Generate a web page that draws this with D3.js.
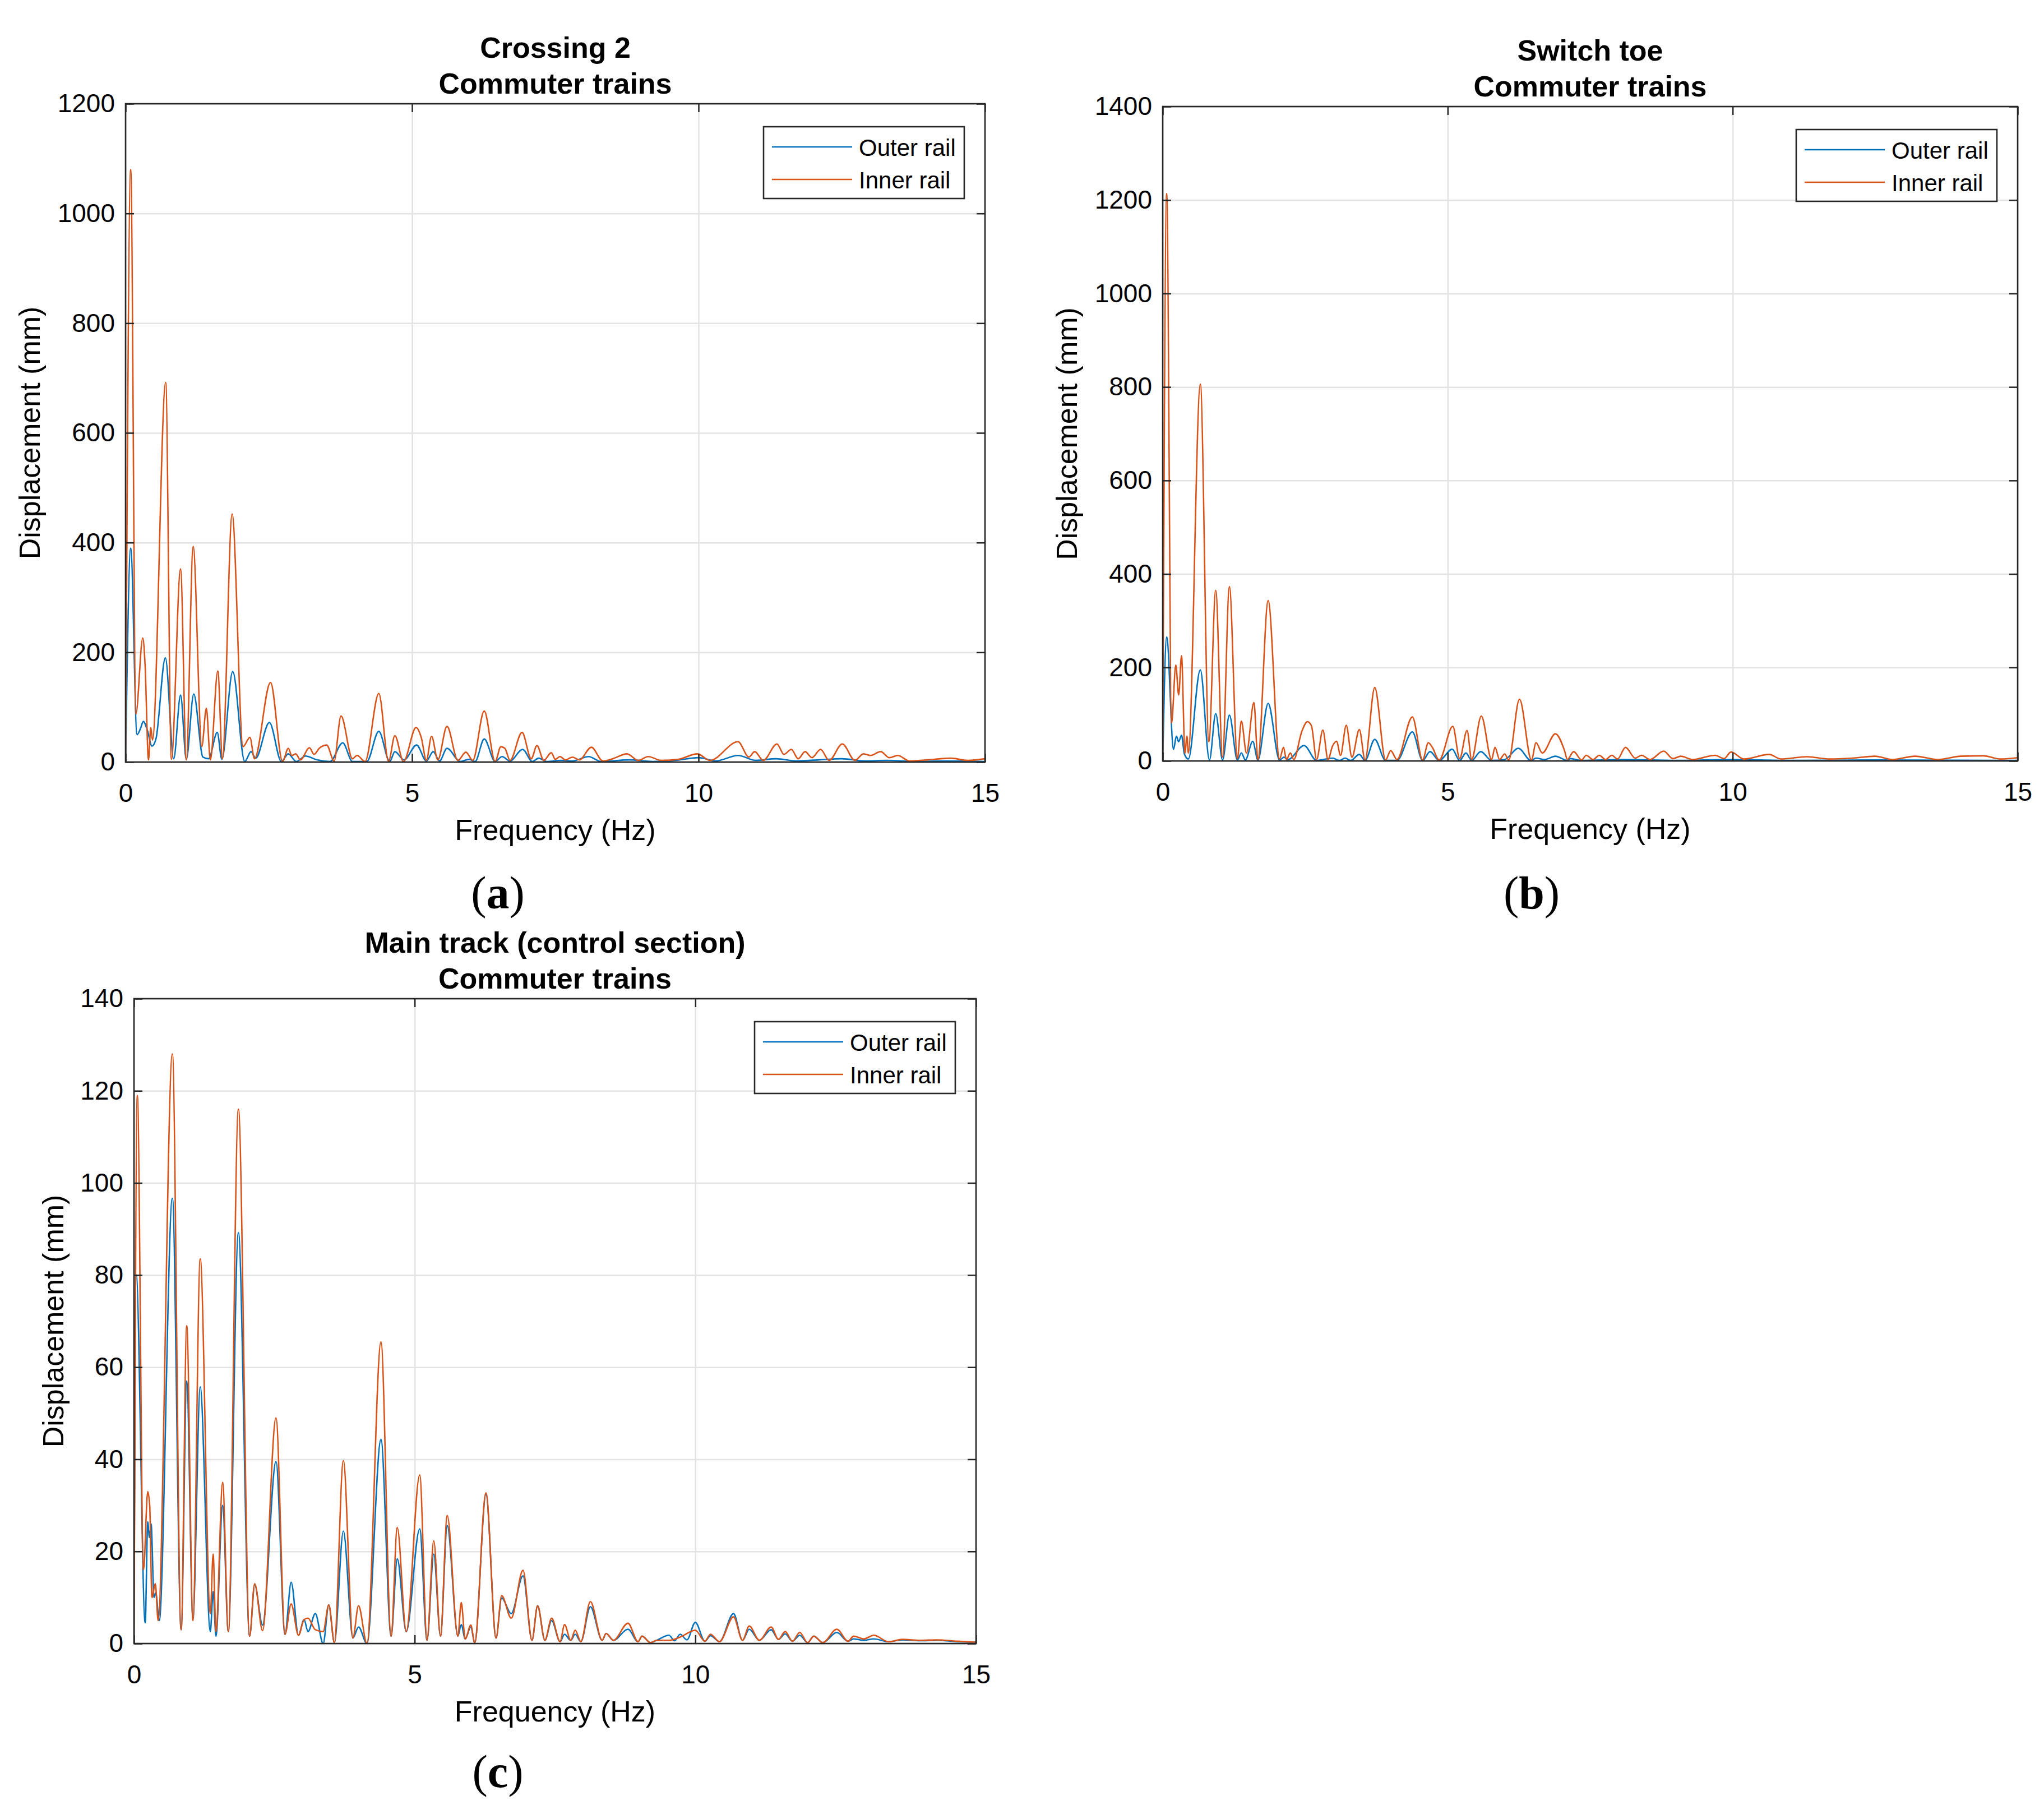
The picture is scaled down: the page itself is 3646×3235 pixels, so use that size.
<!DOCTYPE html>
<html>
<head>
<meta charset="utf-8">
<title>Displacement spectra - commuter trains</title>
<script src="https://d3js.org/d3.v7.min.js"></script>
<style>
  body { margin: 0; background: #fff; }
  svg text { font-family: "Liberation Sans", Arial, Helvetica, sans-serif; fill: #000; }
</style>
</head>
<body>
<div id="container"></div>
<script>
//------------------------------DATA------------------------------//
// [frequency (Hz), displacement] (peaks and troughs)
var freqTicks = [0, 5, 10, 15];
var seriesNames = ["Outer rail", "Inner rail"];

// (a) Crossing 2
var crossingTicks = [0, 200, 400, 600, 800, 1000, 1200];
var crossingOuter = [
  [0, 0], [0.09, 390], [0.2, 50], [0.26, 61], [0.31, 74], [0.38, 58], [0.46, 29], [0.53, 42],
  [0.695, 190], [0.84, 6], [0.96, 122], [1.06, 5], [1.19, 124], [1.35, 9], [1.45, 6], [1.6, 54],
  [1.68, 5], [1.87, 165], [2.08, 1], [2.19, 19], [2.27, 7], [2.51, 72], [2.72, 1], [2.84, 15],
  [2.98, 1], [3.14, 11], [3.34, 4], [3.57, 1], [3.79, 35], [3.96, 1], [4.21, 1], [4.42, 56],
  [4.61, 1], [4.7, 19], [4.86, 4], [5.08, 31], [5.25, 2], [5.37, 19], [5.48, 2], [5.61, 25],
  [5.84, 1], [6.0, 5], [6.1, 1], [6.26, 42], [6.45, 1], [6.57, 10], [6.71, 2], [6.93, 23],
  [7.1, 1], [7.21, 7], [7.35, 1], [7.6, 3], [7.8, 2], [8.08, 10], [8.3, 1], [8.8, 4], [9.2, 1],
  [9.6, 3], [10.0, 8], [10.3, 2], [10.69, 12], [11.0, 3], [11.35, 6], [11.7, 2], [12.1, 4],
  [12.5, 6], [12.9, 2], [13.3, 3], [13.8, 1], [14.3, 2], [15, 1]
];
var crossingInner = [
  [0, 0], [0.09, 1080], [0.18, 88], [0.3, 226], [0.34, 178], [0.4, 4], [0.44, 63], [0.47, 40],
  [0.7, 692], [0.8, 5], [0.96, 352], [1.06, 4], [1.18, 393], [1.33, 28], [1.41, 98], [1.48, 4],
  [1.61, 166], [1.69, 6], [1.86, 452], [2.05, 28], [2.17, 45], [2.25, 6], [2.53, 145], [2.74, 1],
  [2.84, 25], [2.9, 12], [2.97, 15], [3.05, 4], [3.21, 26], [3.29, 14], [3.38, 25], [3.51, 31],
  [3.64, 2], [3.76, 84], [3.96, 6], [4.04, 12], [4.18, 1], [4.42, 125], [4.59, 1], [4.7, 48],
  [4.85, 1], [5.07, 63], [5.16, 45], [5.25, 3], [5.34, 47], [5.45, 4], [5.61, 65], [5.8, 3],
  [5.94, 18], [6.06, 3], [6.26, 93], [6.45, 1], [6.55, 28], [6.62, 25], [6.71, 3], [6.92, 54],
  [7.08, 6], [7.18, 30], [7.3, 3], [7.43, 17], [7.5, 5], [7.58, 10], [7.68, 4], [7.8, 9],
  [7.92, 4], [8.13, 27], [8.33, 2], [8.5, 6], [8.75, 15], [8.95, 3], [9.12, 10], [9.35, 3],
  [9.65, 5], [9.98, 15], [10.2, 3], [10.69, 37], [10.88, 9], [10.98, 19], [11.13, 3],
  [11.37, 33], [11.49, 14], [11.62, 23], [11.74, 6], [11.86, 19], [11.98, 8], [12.13, 23],
  [12.28, 3], [12.51, 33], [12.73, 3], [12.88, 15], [13.0, 12], [13.18, 19], [13.33, 8],
  [13.48, 12], [13.68, 2], [14.0, 4], [14.4, 7], [14.7, 3], [15, 6]
];

// (b) Switch toe
var switchTicks = [0, 200, 400, 600, 800, 1000, 1200, 1400];
var switchOuter = [
  [0, 0], [0.07, 265], [0.19, 25], [0.24, 53], [0.28, 41], [0.33, 55], [0.38, 15], [0.45, 4],
  [0.66, 195], [0.82, 2], [0.93, 101], [1.05, 2], [1.17, 98], [1.31, 2], [1.38, 17], [1.45, 2],
  [1.58, 42], [1.67, 2], [1.85, 123], [2.05, 2], [2.13, 8], [2.2, 3], [2.48, 33], [2.7, 1],
  [2.98, 6], [3.1, 1], [3.2, 6], [3.3, 1], [3.45, 14], [3.55, 1], [3.72, 46], [3.91, 1],
  [4.11, 1], [4.38, 62], [4.56, 1], [4.69, 20], [4.85, 1], [5.08, 25], [5.21, 1], [5.32, 17],
  [5.42, 1], [5.58, 20], [5.77, 1], [6.0, 3], [6.24, 27], [6.46, 1], [6.55, 6], [6.7, 3],
  [6.89, 10], [7.1, 1], [7.15, 5], [7.35, 1], [8.1, 3], [9.0, 1], [10.0, 3], [11.0, 1],
  [12.5, 2], [15, 1]
];
var switchInner = [
  [0, 0], [0.07, 1214], [0.155, 81], [0.23, 205], [0.28, 141], [0.33, 225], [0.39, 17],
  [0.425, 53], [0.45, 17], [0.66, 806], [0.81, 41], [0.93, 365], [1.05, 8], [1.17, 373],
  [1.31, 5], [1.38, 85], [1.47, 17], [1.6, 125], [1.67, 3], [1.85, 343], [2.05, 4], [2.12, 29],
  [2.17, 3], [2.24, 17], [2.3, 3], [2.44, 63], [2.54, 84], [2.61, 75], [2.7, 3], [2.81, 66],
  [2.9, 3], [2.98, 32], [3.05, 42], [3.12, 12], [3.22, 76], [3.32, 8], [3.45, 67], [3.55, 2],
  [3.72, 157], [3.91, 2], [4.0, 22], [4.11, 3], [4.38, 94], [4.56, 2], [4.66, 39], [4.73, 29],
  [4.85, 2], [5.09, 74], [5.21, 5], [5.34, 65], [5.42, 3], [5.59, 96], [5.77, 3], [5.83, 29],
  [5.91, 3], [6.0, 15], [6.07, 2], [6.26, 132], [6.47, 2], [6.55, 39], [6.66, 17], [6.89, 58],
  [7.05, 22], [7.1, 3], [7.21, 20], [7.35, 2], [7.43, 12], [7.55, 3], [7.66, 12], [7.77, 3],
  [7.88, 12], [7.98, 4], [8.12, 29], [8.29, 6], [8.4, 12], [8.55, 3], [8.79, 21], [8.95, 5],
  [9.09, 10], [9.3, 3], [9.69, 12], [9.85, 5], [9.97, 19], [10.2, 4], [10.64, 14], [10.85, 4],
  [11.3, 9], [11.7, 4], [12.1, 6], [12.5, 10], [12.8, 3], [13.2, 10], [13.6, 3], [14.0, 10],
  [14.4, 11], [14.7, 4], [15, 7]
];

// (c) Main track (control section)
var mainTicks = [0, 20, 40, 60, 80, 100, 120, 140];
var mainOuter = [
  [0, 0], [0.04, 80], [0.2, 4.5], [0.245, 26.4], [0.275, 23], [0.305, 26], [0.357, 10],
  [0.388, 11], [0.45, 5], [0.684, 96.7], [0.84, 3], [0.94, 57], [1.05, 5.5], [1.18, 55.7],
  [1.36, 2.6], [1.41, 11.3], [1.46, 1.6], [1.58, 30], [1.68, 2.6], [1.86, 89.2], [2.06, 1.6],
  [2.15, 12.8], [2.29, 4], [2.53, 39.5], [2.69, 2], [2.8, 13.3], [2.93, 1.8], [3.03, 5.2],
  [3.1, 2.6], [3.23, 6.5], [3.37, 0], [3.47, 8.4], [3.57, 0.2], [3.73, 24.4], [3.9, 1.2],
  [4.0, 3.6], [4.15, 0], [4.4, 44.3], [4.58, 1.6], [4.69, 18.4], [4.85, 2.6], [5.09, 24.9],
  [5.22, 0.7], [5.34, 19.4], [5.46, 1.6], [5.58, 25.6], [5.77, 1.6], [5.83, 4.1], [5.9, 1],
  [6.0, 3.6], [6.07, 0.2], [6.27, 32.4], [6.45, 1.2], [6.55, 9.9], [6.72, 6.5], [6.93, 14.7],
  [7.09, 0.7], [7.19, 8.2], [7.32, 0.7], [7.44, 5], [7.59, 0.4], [7.67, 2], [7.78, 0.7],
  [7.86, 2], [7.96, 0.4], [8.13, 8], [8.34, 0.7], [8.41, 2.2], [8.54, 0.7], [8.8, 3.1],
  [8.98, 0.4], [9.05, 1.6], [9.2, 0.2], [9.31, 0.7], [9.53, 1.8], [9.63, 0.6], [9.73, 2],
  [9.85, 0.8], [10.0, 4.6], [10.17, 0.5], [10.27, 1.7], [10.43, 0.4], [10.68, 6.5],
  [10.84, 0.7], [10.96, 3.1], [11.14, 0.7], [11.35, 3], [11.48, 0.9], [11.6, 2.1],
  [11.73, 0.5], [11.86, 1.8], [12.0, 0.2], [12.11, 1.6], [12.27, 0.2], [12.52, 2.4],
  [12.72, 0.5], [12.82, 1], [13.0, 0.7], [13.18, 1], [13.44, 0.4], [13.69, 0.8], [14.0, 0.6],
  [14.3, 0.7], [14.66, 0.4], [15, 0.3]
];
var mainInner = [
  [0, 0], [0.06, 119], [0.17, 16], [0.245, 33], [0.28, 30], [0.32, 10], [0.38, 13], [0.43, 5],
  [0.684, 128], [0.84, 3], [0.94, 69], [1.05, 5], [1.18, 83.5], [1.36, 6.5], [1.41, 19.4],
  [1.46, 2.6], [1.58, 35], [1.68, 2.6], [1.86, 116], [2.06, 1.6], [2.15, 13], [2.29, 2.8],
  [2.53, 49], [2.69, 2], [2.8, 8.6], [2.93, 1.8], [3.03, 5.2], [3.1, 5.5], [3.23, 3],
  [3.37, 2.6], [3.47, 8.4], [3.57, 0.2], [3.73, 39.7], [3.9, 1.2], [4.0, 8.2], [4.15, 0],
  [4.4, 65.5], [4.58, 1.6], [4.69, 25.2], [4.85, 2.6], [5.09, 36.6], [5.22, 0.7], [5.34, 22.3],
  [5.46, 1.6], [5.58, 27.8], [5.77, 1.6], [5.83, 8.9], [5.9, 1], [6.0, 4], [6.07, 0.2],
  [6.27, 32.7], [6.45, 1.2], [6.55, 10.4], [6.72, 5.5], [6.93, 15.9], [7.09, 0.7], [7.19, 8.2],
  [7.32, 0.7], [7.44, 5.5], [7.59, 0.4], [7.67, 4.1], [7.78, 0.7], [7.86, 2.9], [7.96, 0.4],
  [8.13, 9.1], [8.34, 0.7], [8.41, 2.2], [8.54, 0.7], [8.8, 4.4], [8.98, 0.4], [9.05, 1.6],
  [9.2, 0.2], [9.31, 0.7], [9.53, 0.7], [9.73, 1.4], [10.0, 2.9], [10.17, 0.5], [10.27, 2],
  [10.43, 0.4], [10.68, 5.8], [10.84, 0.7], [10.96, 3.8], [11.14, 0.7], [11.35, 3.6],
  [11.48, 0.9], [11.6, 2.6], [11.73, 0.5], [11.86, 2.4], [12.0, 0.2], [12.11, 1.6],
  [12.27, 0.2], [12.52, 3.1], [12.72, 0.5], [12.82, 1.6], [13.0, 1], [13.18, 1.8],
  [13.44, 0.4], [13.69, 0.9], [14.0, 0.7], [14.3, 0.8], [14.66, 0.5], [15, 0.3]
];

//---------------------------LAYOUT-------------------------------//
var W = 3646, H = 3235;
var colors = ["#0072BD", "#D95319"];
var axisColor = "#262626", gridColor = "#e3e3e3";

var panels = [
  { tag: "a", title: ["Crossing 2", "Commuter trains"], box: { l: 224, t: 185, r: 1757, b: 1359 },
    yTicks: crossingTicks, series: [crossingOuter, crossingInner], ylabOff: 153, tagX: 888, tagY: 1620 },
  { tag: "b", title: ["Switch toe", "Commuter trains"], box: { l: 2074, t: 190, r: 3599, b: 1357 },
    yTicks: switchTicks, series: [switchOuter, switchInner], ylabOff: 153, tagX: 2732, tagY: 1620 },
  { tag: "c", title: ["Main track (control section)", "Commuter trains"], box: { l: 239, t: 1781, r: 1741, b: 2931 },
    yTicks: mainTicks, series: [mainOuter, mainInner], ylabOff: 126, tagX: 888, tagY: 3187 }
];

var svg = d3.select("#container").append("svg")
  .attr("width", W).attr("height", H)
  .style("display", "block")
  .style("background", "#fff");

//----------------------------DRAW--------------------------------//
function drawPanel(p, idx) {
  var b = p.box, w = b.r - b.l, h = b.b - b.t;
  var x = d3.scaleLinear().domain([0, 15]).range([0, w]);
  var y = d3.scaleLinear().domain([0, d3.max(p.yTicks)]).range([h, 0]);
  var tick = 15;

  var g = svg.append("g").attr("transform", "translate(" + b.l + "," + b.t + ")");

  // grid
  g.append("g").attr("class", "grid")
    .attr("transform", "translate(0," + h + ")")
    .call(d3.axisBottom(x).tickValues(freqTicks).tickSize(-h).tickFormat(""))
    .call(function (s) { s.select(".domain").remove(); });
  g.append("g").attr("class", "grid")
    .call(d3.axisLeft(y).tickValues(p.yTicks).tickSize(-w).tickFormat(""))
    .call(function (s) { s.select(".domain").remove(); });
  g.selectAll(".grid line").attr("stroke", gridColor).attr("stroke-width", 2.5);

  // lines
  var clipId = "clip-" + p.tag;
  g.append("clipPath").attr("id", clipId)
    .append("rect").attr("x", 0).attr("y", -2).attr("width", w).attr("height", h + 2);
  var line = d3.line()
    .x(function (d) { return x(d[0]); })
    .y(function (d) { return y(d[1]); })
    .curve(d3.curveMonotoneX);
  p.series.forEach(function (s, i) {
    g.append("path")
      .datum(s)
      .attr("clip-path", "url(#" + clipId + ")")
      .attr("fill", "none")
      .attr("stroke", colors[i])
      .attr("stroke-width", 2.6)
      .attr("stroke-linejoin", "round")
      .attr("d", line);
  });

  // axes (ticks inward on all four sides)
  var xb = g.append("g").attr("transform", "translate(0," + h + ")")
    .call(d3.axisBottom(x).tickValues(freqTicks).tickSize(-tick).tickPadding(38).tickFormat(d3.format("d")));
  var xt = g.append("g")
    .call(d3.axisTop(x).tickValues(freqTicks).tickSize(-tick).tickFormat(""));
  var yl = g.append("g")
    .call(d3.axisLeft(y).tickValues(p.yTicks).tickSize(-tick).tickPadding(19).tickFormat(d3.format("d")));
  var yr = g.append("g").attr("transform", "translate(" + w + ",0)")
    .call(d3.axisRight(y).tickValues(p.yTicks).tickSize(-tick).tickFormat(""));
  [xb, xt, yl, yr].forEach(function (a) {
    a.select(".domain").remove();
    a.selectAll("line").attr("stroke", axisColor).attr("stroke-width", 2.5);
    a.selectAll("text").attr("font-size", 46).attr("fill", "#262626")
      .attr("font-family", "'Liberation Sans', Arial, sans-serif");
  });

  // box
  g.append("rect").attr("width", w).attr("height", h)
    .attr("fill", "none").attr("stroke", axisColor).attr("stroke-width", 2.6);

  // titles
  p.title.forEach(function (t, i) {
    g.append("text")
      .attr("x", w / 2).attr("y", i === 0 ? -82 : -18)
      .attr("text-anchor", "middle")
      .attr("font-size", 52).attr("font-weight", "bold")
      .text(t);
  });

  // axis labels
  g.append("text")
    .attr("x", w / 2).attr("y", h + 139)
    .attr("text-anchor", "middle").attr("font-size", 52).attr("fill", "#262626")
    .text("Frequency (Hz)");
  g.append("text")
    .attr("transform", "translate(" + (-p.ylabOff) + "," + (h / 2) + ") rotate(-90)")
    .attr("text-anchor", "middle").attr("font-size", 52).attr("fill", "#262626")
    .text("Displacement (mm)");

  // legend
  var lw = 358, lh = 128;
  var lg = g.append("g").attr("transform", "translate(" + (w - 37 - lw) + ",41)");
  lg.append("rect").attr("width", lw).attr("height", lh)
    .attr("fill", "#fff").attr("stroke", axisColor).attr("stroke-width", 2.6);
  seriesNames.forEach(function (n, i) {
    var yy = 36 + i * 58;
    lg.append("line").attr("x1", 15).attr("x2", 158).attr("y1", yy).attr("y2", yy)
      .attr("stroke", colors[i]).attr("stroke-width", 2.6);
    lg.append("text").attr("x", 170).attr("y", yy + 16)
      .attr("font-size", 42).text(n);
  });

  // panel tag
  var tg = svg.append("text")
    .attr("x", p.tagX).attr("y", p.tagY)
    .attr("text-anchor", "middle")
    .style("font-family", "'Liberation Serif', 'Times New Roman', serif")
    .attr("font-size", 82);
  tg.append("tspan").text("(");
  tg.append("tspan").attr("font-weight", "bold").text(p.tag);
  tg.append("tspan").text(")");
}

panels.forEach(drawPanel);
</script>
</body>
</html>
